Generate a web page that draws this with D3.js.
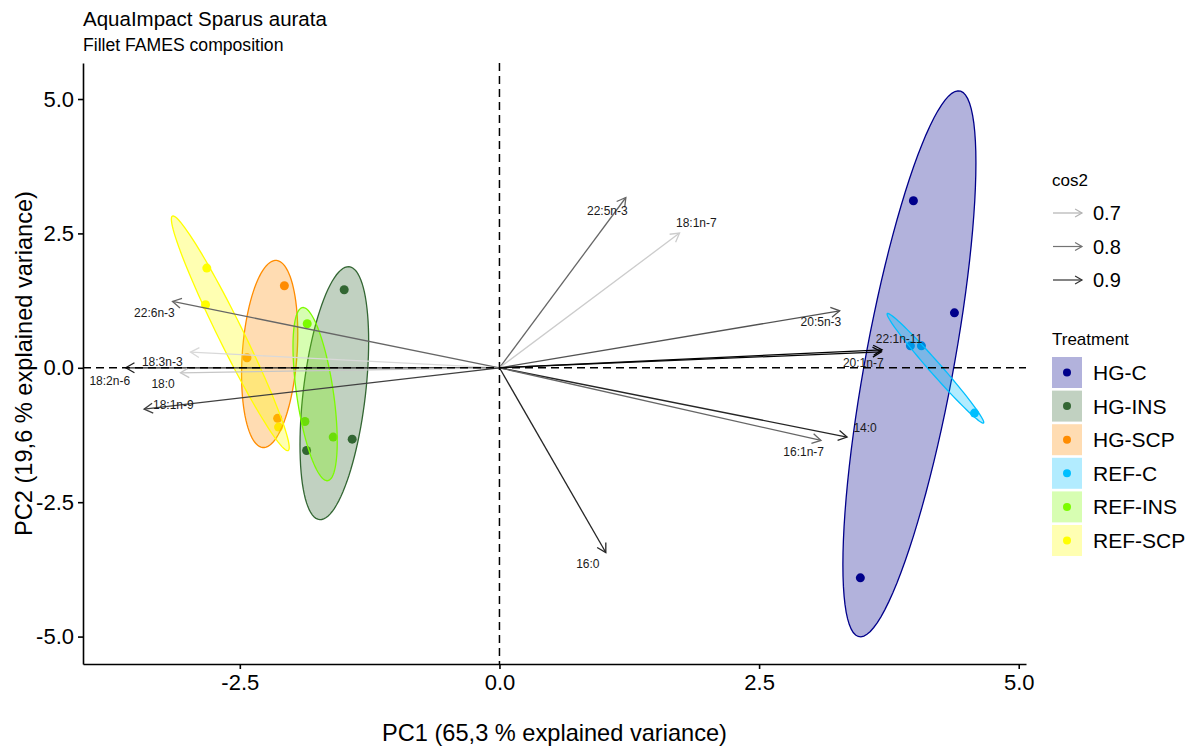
<!DOCTYPE html>
<html>
<head>
<meta charset="utf-8">
<script src="https://cdn.jsdelivr.net/npm/d3@7"></script>
<style>
  body { margin: 0; background: #fff; }
  svg { display: block; font-family: "Liberation Sans", Arial, sans-serif; }
</style>
</head>
<body>
<svg id="chart" width="1197" height="748"></svg>
<script>
// ---- data ----
const treatments = ["HG-C", "HG-INS", "HG-SCP", "REF-C", "REF-INS", "REF-SCP"];

// individuals (PC scores)
const indTreatment = ["HG-C", "HG-C", "HG-C",
  "HG-INS", "HG-INS", "HG-INS",
  "HG-SCP", "HG-SCP", "HG-SCP",
  "REF-C", "REF-C", "REF-C",
  "REF-INS", "REF-INS", "REF-INS",
  "REF-SCP", "REF-SCP", "REF-SCP"];
const indPC1 = [3.986, 4.381, 3.475, -1.495, -1.418, -1.857, -2.071, -2.431, -2.136,
  3.957, 4.063, 4.574, -1.851, -1.873, -1.601, -2.818, -2.830, -2.127];
const indPC2 = [3.107, 1.023, -3.907, 1.451, -1.327, -1.539, 1.526, 0.186, -0.940,
  0.409, 0.409, -0.843, 0.819, -0.999, -1.289, 1.855, 1.172, -1.103];

// variables (scaled loadings)
const varNames = ["22:5n-3", "18:1n-7", "20:5n-3", "22:1n-11", "20:1n-7", "14:0", "16:1n-7",
  "16:0", "22:6n-3", "18:3n-3", "18:2n-6", "18:0", "18:1n-9"];
const varPC1 = [1.217, 1.734, 3.276, 3.684, 3.677, 3.347, 3.096, 1.024, -3.148, -2.975, -3.598, -3.071, -3.422];
const varPC2 = [3.168, 2.506, 1.060, 0.335, 0.298, -1.289, -1.352, -3.436, 1.234, 0.292, 0.0, -0.093, -0.769];
const varCos2 = [0.82, 0.66, 0.85, 0.98, 0.97, 0.92, 0.82, 0.92, 0.82, 0.64, 0.93, 0.67, 0.88];
// repelled label positions
const varLabelPC1 = [1.039, 1.896, 3.095, 3.848, 3.503, 3.521, 2.929, 0.851, -3.322, -3.247, -3.752, -3.239, -3.140];
const varLabelPC2 = [2.924, 2.692, 0.843, 0.539, 0.087, -1.111, -1.566, -3.647, 1.017, 0.117, -0.242, -0.304, -0.683];

const xLimits = [-4.01, 5.07];
const yLimits = [-5.51, 5.67];
const xTicks = [-2.5, 0, 2.5, 5];
const yTicks = [-5, -2.5, 0, 2.5, 5];
const cos2Breaks = [0.7, 0.8, 0.9];
const ellipseRadius = 1.41;

// ---- styles ----
const groupColors = ["#00008B", "#336633", "#FF8C00", "#00BFFF", "#7CFC00", "#FFFF00"];
const fillOpacity = 0.3;

const svg = d3.select("#chart");
const plot = { left: 83, right: 1026, top: 63, bottom: 664 };

const x = d3.scaleLinear().domain(xLimits).range([plot.left, plot.right]);
const y = d3.scaleLinear().domain(yLimits).range([plot.bottom, plot.top]);
const color = d3.scaleOrdinal().domain(treatments).range(groupColors);
const cos2Color = d3.scaleLinear().domain(d3.extent(varCos2)).range(["#d9d9d9", "#000000"]);

// titles
svg.append("text").attr("x", 83).attr("y", 26)
  .style("font-size", "20.5px").text("AquaImpact Sparus aurata");
svg.append("text").attr("x", 83).attr("y", 51)
  .style("font-size", "17.6px").text("Fillet FAMES composition");

// points (under the ellipses)
const inds = indPC1.map((d, i) => ({ pc1: d, pc2: indPC2[i], g: indTreatment[i] }));
svg.append("g").selectAll("circle")
  .data(inds).enter().append("circle")
  .attr("cx", d => x(d.pc1))
  .attr("cy", d => y(d.pc2))
  .attr("r", 4.5)
  .attr("fill", d => color(d.g));

// covariance ellipses per treatment
function ellipsePoints(g) {
  const pts = inds.filter(d => d.g === g);
  const n = pts.length;
  const mx = d3.mean(pts, d => d.pc1), my = d3.mean(pts, d => d.pc2);
  const sxx = d3.sum(pts, d => (d.pc1 - mx) ** 2) / (n - 1);
  const syy = d3.sum(pts, d => (d.pc2 - my) ** 2) / (n - 1);
  const sxy = d3.sum(pts, d => (d.pc1 - mx) * (d.pc2 - my)) / (n - 1);
  // cholesky of covariance
  const a = Math.sqrt(sxx), b = sxy / a, c = Math.sqrt(syy - b * b);
  return d3.range(0, 101).map(k => {
    const t = 2 * Math.PI * k / 100;
    const u = Math.cos(t), v = Math.sin(t);
    return [mx + ellipseRadius * a * u, my + ellipseRadius * (b * u + c * v)];
  });
}
const ellLine = d3.line().x(d => x(d[0])).y(d => y(d[1])).curve(d3.curveLinearClosed);
svg.append("g").selectAll("path")
  .data(treatments).enter().append("path")
  .attr("d", g => ellLine(ellipsePoints(g)))
  .attr("fill", g => color(g))
  .attr("fill-opacity", fillOpacity)
  .attr("stroke", g => color(g))
  .attr("stroke-width", 1.3);

// arrow helper
function arrow(g, x0, y0, x1, y1, col, head, w) {
  const ang = Math.atan2(y1 - y0, x1 - x0);
  const spread = Math.PI / 6;
  g.append("line").attr("x1", x0).attr("y1", y0).attr("x2", x1).attr("y2", y1)
    .attr("stroke", col).attr("stroke-width", w);
  g.append("path")
    .attr("d", `M${x1 - head * Math.cos(ang - spread)},${y1 - head * Math.sin(ang - spread)}L${x1},${y1}L${x1 - head * Math.cos(ang + spread)},${y1 - head * Math.sin(ang + spread)}`)
    .attr("fill", "none").attr("stroke", col).attr("stroke-width", w);
}

// variable arrows
const vars = varNames.map((d, i) => ({
  name: d, pc1: varPC1[i], pc2: varPC2[i], cos2: varCos2[i], lx: varLabelPC1[i], ly: varLabelPC2[i]
}));
const arrowsG = svg.append("g");
vars.forEach(v => arrow(arrowsG, x(0), y(0), x(v.pc1), y(v.pc2), cos2Color(v.cos2), 10, 1.3));

svg.append("g").selectAll("text")
  .data(vars).enter().append("text")
  .attr("x", d => x(d.lx))
  .attr("y", d => y(d.ly))
  .attr("text-anchor", "middle")
  .attr("dominant-baseline", "central")
  .style("font-size", "12px")
  .attr("fill", "#1a1a1a")
  .text(d => d.name);

// zero lines
svg.append("line").attr("x1", plot.left).attr("x2", plot.right)
  .attr("y1", y(0)).attr("y2", y(0))
  .attr("stroke", "#000").attr("stroke-width", 1.5).attr("stroke-dasharray", "8,5");
svg.append("line").attr("x1", x(0)).attr("x2", x(0))
  .attr("y1", plot.top).attr("y2", plot.bottom)
  .attr("stroke", "#000").attr("stroke-width", 1.5).attr("stroke-dasharray", "8,5");

// axes
const fmt = d => d.toFixed(1);
const xAxis = svg.append("g")
  .attr("transform", `translate(0,${plot.bottom})`)
  .call(d3.axisBottom(x).tickValues(xTicks).tickFormat(fmt).tickSize(5).tickSizeOuter(0).tickPadding(5));
const yAxis = svg.append("g")
  .attr("transform", `translate(${plot.left},0)`)
  .call(d3.axisLeft(y).tickValues(yTicks).tickFormat(fmt).tickSize(5).tickSizeOuter(0).tickPadding(4));
[xAxis, yAxis].forEach(ax => {
  ax.selectAll("path, line").attr("stroke", "#000").attr("stroke-width", 1.6);
  ax.selectAll("text").attr("fill", "#000")
    .style("font-size", "22px").style("font-family", '"Liberation Sans", Arial, sans-serif');
});

svg.append("text")
  .attr("x", (plot.left + plot.right) / 2).attr("y", 741)
  .attr("text-anchor", "middle").style("font-size", "23.6px")
  .text("PC1 (65,3 % explained variance)");
svg.append("text")
  .attr("transform", `translate(32,${(plot.top + plot.bottom) / 2}) rotate(-90)`)
  .attr("text-anchor", "middle").style("font-size", "23.6px")
  .text("PC2 (19,6 % explained variance)");

// legend: cos2
const leg = svg.append("g");
leg.append("text").attr("x", 1052).attr("y", 186).style("font-size", "17px").text("cos2");
cos2Breaks.forEach((b, i) => {
  const yy = 213 + i * 33.5;
  arrow(leg, 1053, yy, 1082, yy, cos2Color(b), 8, 1.2);
  leg.append("text").attr("x", 1093).attr("y", yy).attr("dominant-baseline", "central")
    .style("font-size", "20px").text(b.toFixed(1));
});

// legend: treatment
leg.append("text").attr("x", 1052).attr("y", 345).style("font-size", "17px").text("Treatment");
treatments.forEach((t, i) => {
  const yy = 372.5 + i * 33.6;
  leg.append("rect").attr("x", 1052).attr("y", yy - 15.5).attr("width", 30).attr("height", 31)
    .attr("fill", color(t)).attr("fill-opacity", fillOpacity);
  leg.append("circle").attr("cx", 1067).attr("cy", yy).attr("r", 4).attr("fill", color(t));
  leg.append("text").attr("x", 1093).attr("y", yy).attr("dominant-baseline", "central")
    .style("font-size", "21px").text(t);
});
</script>
</body>
</html>
